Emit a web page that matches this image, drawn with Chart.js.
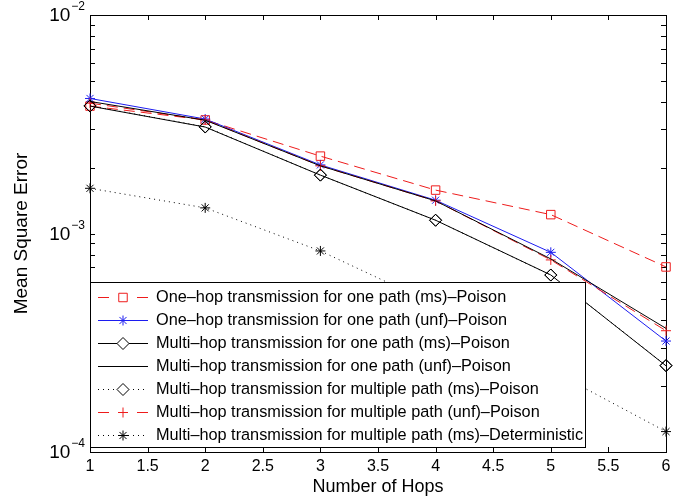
<!DOCTYPE html>
<html><head><meta charset="utf-8">
<script src="https://cdn.jsdelivr.net/npm/chart.js@4.4.1/dist/chart.umd.min.js"></script>
<style>html,body{margin:0;padding:0;background:#fff}#wrap{width:686px;height:499px;position:relative}</style>
</head><body><div id="wrap"><canvas id="c" width="686" height="499"></canvas></div>
<script>
// ---- data ----
const hops = [1, 2, 3, 4, 5, 6];
const seriesLabels = [
  'One\u2013hop transmission for one path (ms)\u2013Poison',
  'One\u2013hop transmission for one path (unf)\u2013Poison',
  'Multi\u2013hop transmission for one path (ms)\u2013Poison',
  'Multi\u2013hop transmission for one path (unf)\u2013Poison',
  'Multi\u2013hop transmission for multiple path (ms)\u2013Poison',
  'Multi\u2013hop transmission for multiple path (unf)\u2013Poison',
  'Multi\u2013hop transmission for multiple path (ms)\u2013Deterministic'
];
const oneHopOnePathMs    = [3.83e-3, 3.31e-3, 2.26e-3, 1.58e-3, 1.22e-3, 7.03e-4];
const oneHopOnePathUnf   = [4.15e-3, 3.34e-3, 2.06e-3, 1.42e-3, 8.2e-4, 3.22e-4];
const multiHopOnePathMs  = [3.83e-3, 3.07e-3, 1.85e-3, 1.15e-3, 6.46e-4, 2.48e-4];
const multiHopOnePathUnf = [4.02e-3, 3.30e-3, 2.04e-3, 1.41e-3, 7.65e-4, 3.68e-4];
const multiHopMultiMs    = [3.84e-3, 3.08e-3, 1.85e-3, 1.15e-3, 6.45e-4, 2.49e-4];
const multiHopMultiUnf   = [3.95e-3, 3.31e-3, 2.04e-3, 1.41e-3, 7.57e-4, 3.59e-4];
const multiHopMultiMsDet = [1.61e-3, 1.31e-3, 8.32e-4, 4.71e-4, 2.37e-4, 1.24e-4];
const xTickValues = [1, 1.5, 2, 2.5, 3, 3.5, 4, 4.5, 5, 5.5, 6];
const yDecades = [1e-4, 1e-3, 1e-2];
const yDecadeExponents = ['\u22124', '\u22123', '\u22122'];

const RED = '#ee1c1c', BLUE = '#1c1cf0', BLACK = '#000000';
const FONT = '"Liberation Sans", Arial, Helvetica, sans-serif';

function pts(arr) { return hops.map((h, i) => ({ x: h, y: arr[i] })); }
function ds(label, arr, color, dash, pointStyle, radius) {
  return {
    label, data: pts(arr), borderColor: color, borderWidth: 1, borderDash: dash,
    pointStyle: pointStyle || false, pointRadius: pointStyle ? radius : 0,
    pointBorderColor: color, pointBackgroundColor: 'rgba(0,0,0,0)', pointBorderWidth: 1,
    tension: 0, fill: false, clip: 12
  };
}
const datasets = [
  ds(seriesLabels[4], multiHopMultiMs, BLACK, [1, 4], 'rectRot', 6),
  ds(seriesLabels[6], multiHopMultiMsDet, BLACK, [1, 4], 'star', 5),
  ds(seriesLabels[3], multiHopOnePathUnf, BLACK, [], null, 0),
  ds(seriesLabels[2], multiHopOnePathMs, BLACK, [], 'rectRot', 6),
  ds(seriesLabels[5], multiHopMultiUnf, RED, [11, 6], 'cross', 5),
  ds(seriesLabels[1], oneHopOnePathUnf, BLUE, [], 'star', 5),
  ds(seriesLabels[0], oneHopOnePathMs, RED, [11, 6], 'rect', 6)
];
const legendOrder = [6, 5, 3, 2, 0, 4, 1]; // dataset indices in legend order

const matlabPlugin = {
  id: 'matlab',
  beforeDatasetsDraw(chart) {
    const { ctx, chartArea: a, scales: { x, y } } = chart;
    ctx.save();
    ctx.strokeStyle = '#000'; ctx.lineWidth = 1;
    ctx.strokeRect(Math.round(a.left) + 0.5, Math.round(a.top) + 0.5, Math.round(a.right - a.left), Math.round(a.bottom - a.top));
    const tl = 5;
    ctx.beginPath();
    xTickValues.forEach(v => {
      const px = Math.round(x.getPixelForValue(v)) + 0.5;
      ctx.moveTo(px, a.bottom); ctx.lineTo(px, a.bottom - tl);
      ctx.moveTo(px, a.top); ctx.lineTo(px, a.top + tl);
    });
    for (let d = 0; d < yDecades.length; d++) {
      for (let m = 1; m <= 9; m++) {
        const v = yDecades[d] * m;
        if (v > yDecades[yDecades.length - 1] * 1.0001) break;
        const py = Math.round(y.getPixelForValue(v)) + 0.5;
        ctx.moveTo(a.left, py); ctx.lineTo(a.left + tl, py);
        ctx.moveTo(a.right, py); ctx.lineTo(a.right - tl, py);
      }
    }
    ctx.stroke();
    ctx.restore();
  },
  afterDatasetsDraw(chart) {
    const { ctx, chartArea: a } = chart;
    const H = Chart.helpers;
    ctx.save();
    const bx = a.left, by = 282, bw = 495, rowH = 23, bh = rowH * legendOrder.length + 4;
    ctx.fillStyle = '#fff';
    ctx.fillRect(bx, by, bw, bh);
    ctx.strokeStyle = '#000'; ctx.lineWidth = 1;
    ctx.strokeRect(Math.round(bx) + 0.5, by + 0.5, bw, bh);
    legendOrder.forEach((di, r) => {
      const d = chart.data.datasets[di];
      const cy = by + 15 + r * rowH;
      const x0 = bx + 8, x1 = bx + 58, mx = (x0 + x1) / 2;
      ctx.save();
      ctx.strokeStyle = d.borderColor; ctx.lineWidth = 1;
      const dash = d.borderDash || [];
      ctx.beginPath();
      if (dash.length && dash[0] > 3) {
        ctx.moveTo(x0, cy + 0.5); ctx.lineTo(x0 + 11, cy + 0.5);
        ctx.moveTo(x1 - 11, cy + 0.5); ctx.lineTo(x1, cy + 0.5);
      } else {
        ctx.setLineDash(dash);
        ctx.moveTo(x0, cy + 0.5); ctx.lineTo(x1, cy + 0.5);
      }
      ctx.stroke();
      ctx.restore();
      if (d.pointStyle) {
        ctx.save();
        ctx.strokeStyle = d.pointBorderColor; ctx.fillStyle = '#fff'; ctx.lineWidth = 1;
        H.drawPoint(ctx, { pointStyle: d.pointStyle, radius: d.pointRadius, rotation: 0, borderWidth: 1 }, mx, cy + 0.5);
        ctx.restore();
      }
      ctx.fillStyle = '#000';
      ctx.font = '16.3px ' + FONT;
      ctx.textBaseline = 'middle'; ctx.textAlign = 'left';
      ctx.fillText(d.label, bx + 66, cy + 1);
    });
    ctx.restore();
  },
  afterDraw(chart) {
    const { ctx, chartArea: a, scales: { y } } = chart;
    ctx.save();
    ctx.fillStyle = '#000';
    yDecades.forEach((v, i) => {
      const py = y.getPixelForValue(v);
      ctx.font = '12px ' + FONT;
      const ew = ctx.measureText(yDecadeExponents[i]).width;
      const right = a.left - 5;
      ctx.textAlign = 'left'; ctx.textBaseline = 'middle';
      ctx.fillText(yDecadeExponents[i], right - ew, py - 8);
      ctx.font = '19px ' + FONT;
      ctx.textAlign = 'right';
      ctx.fillText('10', right - ew - 1, py + 1);
    });
    ctx.restore();
  }
};

new Chart(document.getElementById('c'), {
  type: 'line',
  data: { datasets },
  options: {
    responsive: false, animation: false, devicePixelRatio: 1,
    layout: { padding: { left: 0, right: 20, top: 15, bottom: 0 } },
    plugins: { legend: { display: false }, tooltip: { enabled: false } },
    scales: {
      x: {
        type: 'linear', min: 1, max: 6,
        afterBuildTicks: s => { s.ticks = xTickValues.map(v => ({ value: v })); },
        afterFit: s => { s.height = 47; },
        grid: { display: false, drawTicks: false }, border: { display: false },
        ticks: { color: '#000', padding: 5, font: { family: FONT, size: 16 }, maxRotation: 0, autoSkip: false, callback: v => String(v) },
        title: { display: true, text: 'Number of Hops', color: '#000', font: { family: FONT, size: 18 }, padding: { top: 0, bottom: 1 } }
      },
      y: {
        type: 'logarithmic', min: 1e-4, max: 1e-2,
        afterFit: s => { s.width = 90; },
        grid: { display: false, drawTicks: false }, border: { display: false },
        ticks: { display: false },
        title: { display: true, text: 'Mean Square Error', color: '#000', font: { family: FONT, size: 19 }, padding: { top: 10, bottom: 0 } }
      }
    }
  },
  plugins: [matlabPlugin]
});
</script>
</body></html>
